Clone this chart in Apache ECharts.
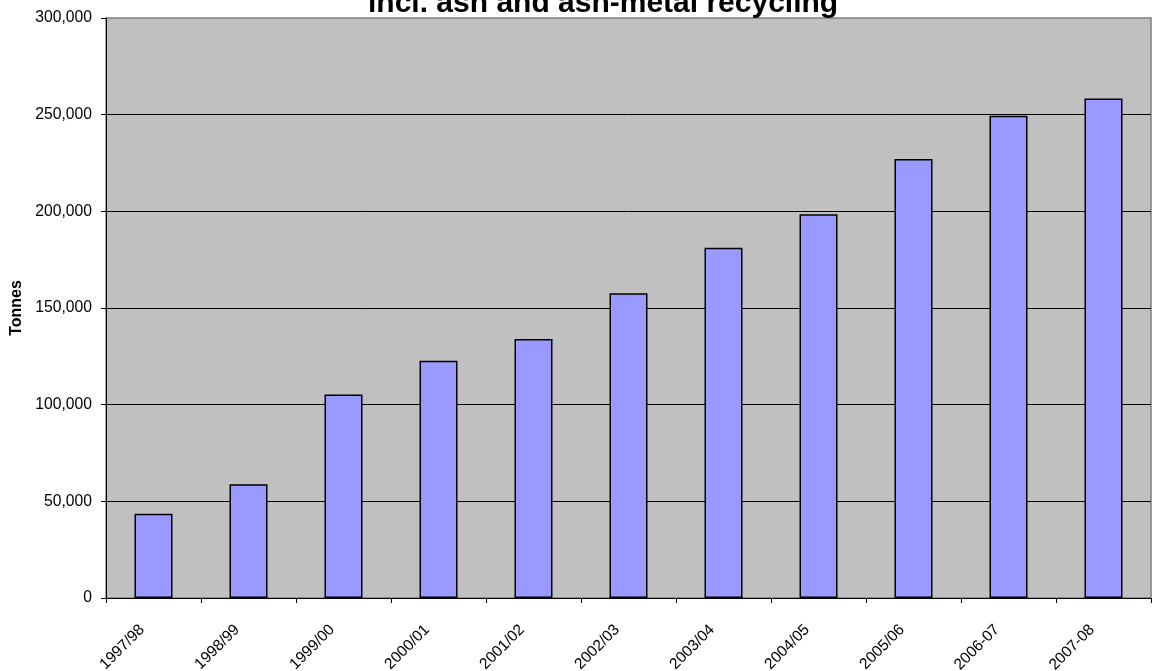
<!DOCTYPE html>
<html>
<head>
<meta charset="utf-8">
<script src="https://cdn.jsdelivr.net/npm/echarts@6/dist/echarts.min.js"></script>
<style>
  html, body { margin: 0; padding: 0; background: #ffffff; }
  #chart { width: 1152px; height: 671px; }
</style>
</head>
<body>
<div id="chart"></div>
<script>
// Recycled tonnage per financial year
const years = ['1997/98', '1998/99', '1999/00', '2000/01', '2001/02', '2002/03',
               '2003/04', '2004/05', '2005/06', '2006-07', '2007-08'];
const tonnes = [43600, 58800, 105200, 122700, 134000, 157600,
                181200, 198500, 227100, 249500, 258300];
const titleText = 'incl. ash and ash-metal recycling';
const yAxisName = 'Tonnes';

const font = '"Liberation Sans", Arial, sans-serif';
const chart = echarts.init(document.getElementById('chart'), null, { renderer: 'canvas' });

chart.setOption({
  animation: false,
  backgroundColor: '#ffffff',
  graphic: [{
    type: 'text',
    left: 368,
    top: -11,
    style: {
      text: titleText,
      font: 'bold 30px ' + font,
      fill: '#000000'
    }
  }],
  grid: {
    left: 106, right: 1, top: 18, bottom: 73,
    outerBoundsMode: 'none',
    containLabel: false,
    show: true,
    backgroundColor: '#c0c0c0',
    borderColor: '#808080',
    borderWidth: 1.5
  },
  xAxis: {
    type: 'category',
    data: years,
    boundaryGap: true,
    axisLine: { show: true, lineStyle: { color: '#000000', width: 1 } },
    axisTick: { show: true, alignWithLabel: false, length: 5, inside: false,
                lineStyle: { color: '#000000' } },
    axisLabel: {
      rotate: 45,
      interval: 0,
      margin: 18,
      padding: [0, 16, 0, 0],
      fontFamily: font,
      fontSize: 15.5,
      color: '#000000'
    }
  },
  yAxis: {
    type: 'value',
    min: 0,
    max: 300000,
    interval: 50000,
    name: yAxisName,
    nameLocation: 'middle',
    nameRotate: 90,
    nameGap: 81,
    nameTextStyle: { fontFamily: font, fontWeight: 'bold', fontSize: 16, color: '#000000' },
    axisLine: { show: true, lineStyle: { color: '#000000', width: 1 } },
    axisTick: { show: true, length: 5, inside: false, lineStyle: { color: '#000000' } },
    axisLabel: {
      margin: 14,
      fontFamily: font,
      fontSize: 15.7,
      color: '#000000',
      formatter: v => v.toLocaleString('en-US')
    },
    splitLine: { show: true, showMinLine: false, showMaxLine: false,
                 lineStyle: { color: '#000000', width: 1 } }
  },
  series: [{
    type: 'bar',
    data: tonnes,
    barWidth: 38,
    itemStyle: { color: '#9999ff', borderColor: '#000000', borderWidth: 1.5 }
  }]
});
</script>
</body>
</html>
